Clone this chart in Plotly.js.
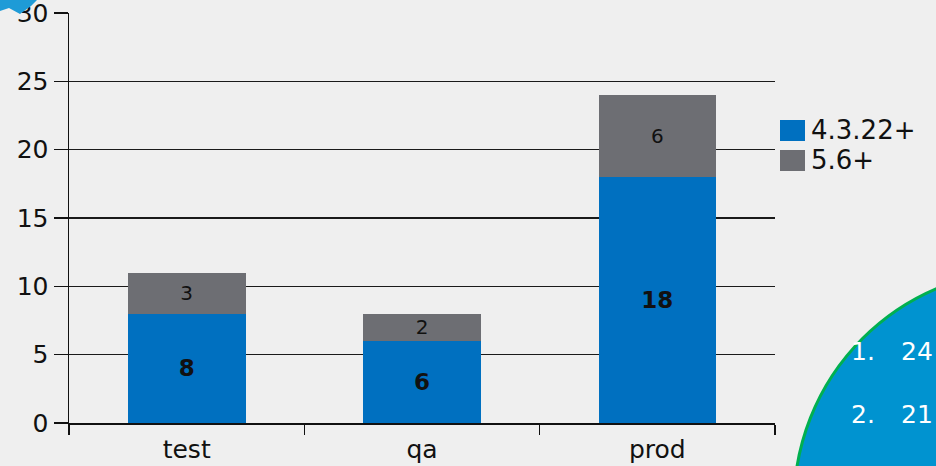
<!DOCTYPE html>
<html>
<head>
<meta charset="utf-8">
<script src="https://cdn.plot.ly/plotly-3.0.1.min.js"></script>
<style>
  html, body { margin: 0; padding: 0; background: #EFEFEF; overflow: hidden; }
  #chart { width: 936px; height: 466px; }
</style>
</head>
<body>
<div id="chart"></div>
<script>
// ---- data ----
const categories = ["test", "qa", "prod"];
const seriesNames = ["4.3.22+", "5.6+"];
const v4322 = [8, 6, 18];
const v56 = [3, 2, 6];
const yTickVals = [0, 5, 10, 15, 20, 25, 30];
const sideItems = ["1.", "2."];
const sideValues = ["24", "21"];

// ---- geometry helpers (pixel -> paper) ----
const W = 936, H = 466;
const M = { l: 69, r: 161, t: 13, b: 43 };
const PW = W - M.l - M.r, PH = H - M.t - M.b;
const px = x => (x - M.l) / PW;
const py = y => (H - M.b - y) / PH;

const blue = "#0070C0";
const gray = "#6D6E73";
const fontFam = "'DejaVu Sans', Verdana, sans-serif";

const traces = [
  {
    type: "bar", name: seriesNames[0], x: categories, y: v4322,
    marker: { color: blue, line: { width: 0 } },
    text: v4322.map(String),
    texttemplate: "<b>%{text}</b>",
    textposition: "inside", insidetextanchor: "middle", constraintext: "none", textangle: 0,
    textfont: { family: fontFam, size: 23, color: "#111111" },
    showlegend: false, hoverinfo: "skip"
  },
  {
    type: "bar", name: seriesNames[1], x: categories, y: v56,
    marker: { color: gray, line: { width: 0 } },
    text: v56.map(String),
    textposition: "inside", insidetextanchor: "middle", constraintext: "none", textangle: 0,
    textfont: { family: fontFam, size: 20, color: "#111111" },
    showlegend: false, hoverinfo: "skip"
  }
];

const shapes = [
  // custom legend swatches
  { type: "rect", xref: "paper", yref: "paper", x0: px(780), x1: px(805), y0: py(141), y1: py(120),
    fillcolor: blue, line: { width: 0 } },
  { type: "rect", xref: "paper", yref: "paper", x0: px(780), x1: px(805), y0: py(171), y1: py(150),
    fillcolor: gray, line: { width: 0 } },
  // big decorative circle (bottom right)
  { type: "circle", xref: "paper", yref: "paper", layer: "above",
    x0: px(1028 - 234), x1: px(1028 + 234), y0: py(504 + 234), y1: py(504 - 234),
    fillcolor: "#0093D0", line: { color: "#00B050", width: 3 } },
  // top-left decorative blue shape
  { type: "path", xref: "paper", yref: "paper", layer: "above",
    path: "M " + px(0) + "," + py(0) + " L " + px(37) + "," + py(0) + " L " + px(31) + "," + py(6) +
          " L " + px(20) + "," + py(14) + " L " + px(9) + "," + py(8) + " L " + px(0) + "," + py(11) + " Z",
    fillcolor: "#1E9BD7", line: { width: 0 } }
];

const annotations = [
  { xref: "paper", yref: "paper", x: px(809), y: py(130), xanchor: "left", yanchor: "middle",
    text: seriesNames[0], showarrow: false, font: { family: fontFam, size: 26, color: "#111111" } },
  { xref: "paper", yref: "paper", x: px(809), y: py(160), xanchor: "left", yanchor: "middle",
    text: seriesNames[1], showarrow: false, font: { family: fontFam, size: 26, color: "#111111" } }
];
const rowsY = [351, 414];
sideItems.forEach((t, i) => {
  annotations.push({ xref: "paper", yref: "paper", x: px(849), y: py(rowsY[i]), xanchor: "left", yanchor: "middle",
    text: t, showarrow: false, font: { family: fontFam, size: 25, color: "#FFFFFF" } });
  annotations.push({ xref: "paper", yref: "paper", x: px(935), y: py(rowsY[i]), xanchor: "right", yanchor: "middle",
    text: sideValues[i], showarrow: false, font: { family: fontFam, size: 25, color: "#FFFFFF" } });
});

const layout = {
  width: W, height: H,
  margin: M,
  paper_bgcolor: "#EFEFEF",
  plot_bgcolor: "#EFEFEF",
  barmode: "stack",
  bargap: 0.5,
  showlegend: false,
  font: { family: fontFam, size: 24, color: "#111111" },
  xaxis: {
    type: "category",
    showline: true, linecolor: "#111111", linewidth: 1.5,
    ticks: "outside", tickson: "boundaries", ticklen: 10, tickwidth: 1.5, tickcolor: "#111111",
    ticklabelstandoff: 3,
    tickfont: { family: fontFam, size: 25, color: "#111111" },
    showgrid: false, zeroline: false, fixedrange: true
  },
  yaxis: {
    range: [0, 30],
    tickvals: yTickVals,
    ticklabeloverflow: "allow",
    showline: true, linecolor: "#111111", linewidth: 1.5,
    ticks: "outside", ticklen: 14, tickwidth: 1.5, tickcolor: "#111111",
    tickfont: { family: fontFam, size: 25, color: "#111111" },
    showgrid: true, gridcolor: "#1A1A1A", gridwidth: 1.5,
    zeroline: false, fixedrange: true
  },
  shapes: shapes,
  annotations: annotations
};

Plotly.newPlot("chart", traces, layout, { displayModeBar: false, staticPlot: true });
</script>
</body>
</html>
